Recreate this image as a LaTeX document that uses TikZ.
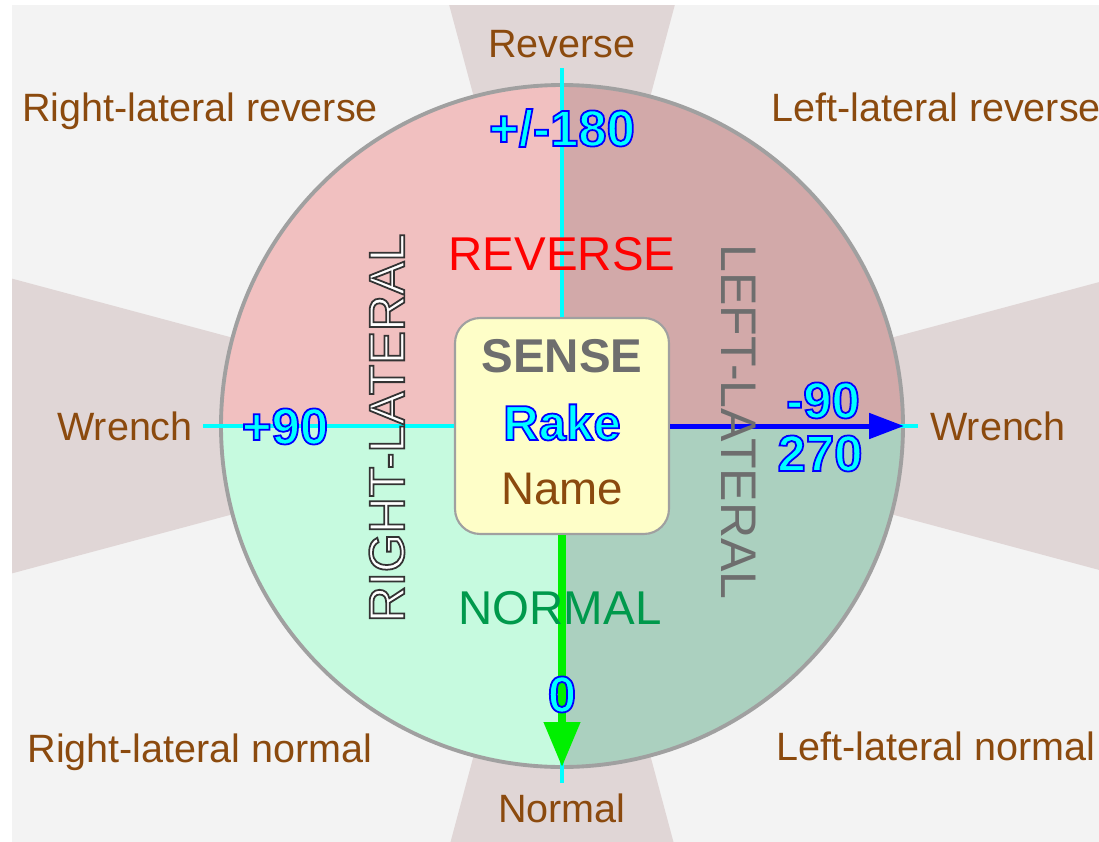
\documentclass[tikz,border=0pt]{standalone}
\usepackage{fontspec}
\setmainfont{Liberation Sans}
\usetikzlibrary{arrows.meta}

% outlined text: stroke colour (rgb), stroke width (bp), text
\newcommand\outlined[3]{{\special{pdf:literal direct #1 RG #2 w 2 Tr}#3\special{pdf:literal direct 0 Tr}}}

\definecolor{bgcol}{HTML}{F3F3F3}
\definecolor{wedgecol}{HTML}{E0D6D6}
\definecolor{ulcol}{HTML}{F1C0C0}
\definecolor{urcol}{HTML}{D2A9A9}
\definecolor{llcol}{HTML}{C6FADF}
\definecolor{lrcol}{HTML}{ABD0BF}
\definecolor{rimcol}{HTML}{A0A0A0}
\definecolor{boxcol}{HTML}{FEFEC8}
\definecolor{brown}{HTML}{8B4A0E}
\definecolor{axcyan}{HTML}{00FFFF}
\definecolor{axblue}{HTML}{0000FF}
\definecolor{axgreen}{HTML}{00F000}
\definecolor{normgreen}{HTML}{00994C}
\definecolor{revred}{HTML}{FF0000}
\definecolor{midgray}{HTML}{6E6E6E}

\tikzset{
  place/.style={text=brown, inner sep=0pt, text height=16pt, text depth=0pt,
    font=\fontsize{22.5}{24}\selectfont},
  sensename/.style={inner sep=0pt, text height=19.5pt, text depth=0pt,
    font=\fontsize{27}{29}\selectfont},
  anglenum/.style={text=axcyan, inner sep=0pt, text height=20.5pt, text depth=0pt,
    font=\fontsize{29}{31}\selectfont\bfseries},
  sensebox/.style={draw=rimcol, line width=1.2pt, fill=boxcol, rounded corners=0.5cm,
    minimum width=4.28cm, minimum height=4.32cm},
  axis/.style={axcyan, line width=0.08cm}
}

\begin{document}
\begin{tikzpicture}[x=0.02cm,y=-0.02cm]
  % Centre and radius of the ball (pixel units)
  \def\cx{562}
  \def\cy{426}
  \def\rad{341}

  % Canvas
  \useasboundingbox (0,0) rectangle (1099,842);
  \fill[white] (0,0) rectangle (1099,842);
  \fill[bgcol] (12,5) rectangle (1099,842);
  \coordinate (c) at (\cx,\cy);

  % Wedges along the four axes
  \begin{scope}
    \clip (12,5) rectangle (1099,842);
    \foreach \a in {0,90,180,270} {
      \fill[wedgecol] (c) -- +(\a-15:900) -- +(\a+15:900) -- cycle;
    }
  \end{scope}

  % Quadrants of the ball
  \begin{scope}
    \clip (c) circle (\rad);
    \fill[ulcol] (c) rectangle +(-\rad,-\rad);
    \fill[urcol] (c) rectangle +(\rad,-\rad);
    \fill[llcol] (c) rectangle +(-\rad,\rad);
    \fill[lrcol] (c) rectangle +(\rad,\rad);
  \end{scope}
  \draw[rimcol, line width=2.2pt] (c) circle (\rad);

  % Centre box
  \node[sensebox] (box) at (\cx,\cy) {};

  % Axes
  \coordinate (top) at (562,68);
  \coordinate (left) at (203,426);
  \coordinate (right) at (918,426);
  \coordinate (rtip) at (904,426);
  \coordinate (bottom) at (562,783);
  \coordinate (btip) at (562,767);
  \draw[axis] (box.north) -- (top);
  \draw[axis] (box.west) -- (left);
  \draw[axis] (box.east) -- (right);
  \draw[axis] (box.south) -- (bottom);
  \draw[axblue, line width=0.1cm, -{Triangle[length=0.7cm,width=0.5cm]}] (box.east) -- (rtip);
  \draw[axgreen, line width=0.15cm, -{Triangle[length=0.9cm,width=0.7cm]}] (box.south) -- (btip);

  % Outer labels
  \node[place] (rev) at (562,43) {Reverse};
  \node[place] (nor) at (562,808) {Normal};
  \node[place] (wl) at (125,426) {Wrench};
  \node[place] (wr) at (998,426) {Wrench};
  \node[place] (rlr) at (200,107) {Right-lateral reverse};
  \node[place, anchor=west] (llr) at (771,107) {Left-lateral reverse};
  \node[place] (rln) at (200,748) {Right-lateral normal};
  \node[place, anchor=west] (lln) at (776,746) {Left-lateral normal};

  % Sense names inside the ball
  \node[sensename, text=revred] (reverse) at (562,253) {REVERSE};
  \node[sensename, text=normgreen] (normal) at (560,607) {NORMAL};
  \node[sensename, text=white, rotate=90, font=\fontsize{28.5}{30}\selectfont] (rightlat) at (387,428)
    {\outlined{0.2 0.2 0.2}{1.0}{RIGHT-LATERAL}};
  \node[sensename, text=midgray, rotate=-90, font=\fontsize{28.5}{30}\selectfont] (leftlat) at (739,422) {LEFT-LATERAL};

  % Rake angles
  \node[anglenum] (a180) at (562,128) {\outlined{0 0 1}{1.0}{+/-180}};
  \node[anglenum] (a90) at (285,426) {\outlined{0 0 1}{1.0}{+90}};
  \node[anglenum] (am90) at (823,400) {\outlined{0 0 1}{1.0}{-90}};
  \node[anglenum] (a270) at (820,453) {\outlined{0 0 1}{1.0}{270}};
  \node[anglenum] (a0) at (562,694) {\outlined{0 0 1}{1.0}{0}};

  % Box text
  \node[inner sep=0pt, text height=19pt, text depth=0pt, text=midgray,
    font=\fontsize{27}{29}\selectfont\bfseries] (sense) at (562,356) {SENSE};
  \node[anglenum, font=\fontsize{28}{30}\selectfont\bfseries] (rake) at (562,422) {\outlined{0 0 1}{1.0}{Rake}};
  \node[inner sep=0pt, text height=18.5pt, text depth=0pt, text=brown,
    font=\fontsize{26}{28}\selectfont] (name) at (562,488) {Name};
\end{tikzpicture}
\end{document}
